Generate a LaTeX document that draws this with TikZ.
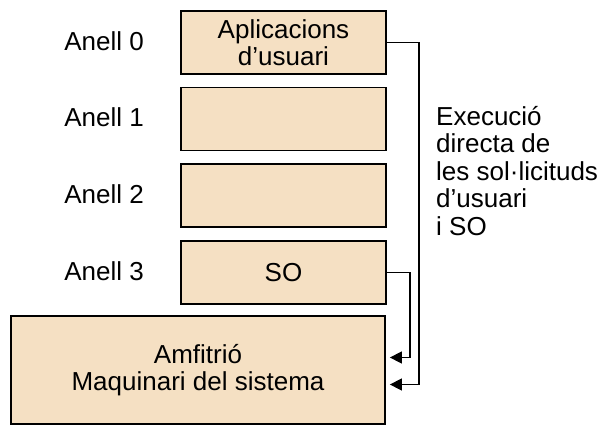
\documentclass[tikz,border=0pt]{standalone}
\usepackage{fontspec}
\setmainfont{Liberation Sans}
\usetikzlibrary{arrows.meta}
\definecolor{sand}{HTML}{F5E0C3}

\begin{document}
\begin{tikzpicture}[x=1pt,y=-1pt,font=\fontsize{26}{27.5}\selectfont,
  ring/.style={draw,line width=1.8pt,fill=sand,minimum width=205pt,minimum height=63pt,inner sep=0pt,align=center},
  lab/.style={inner sep=0pt,anchor=base},
  conn/.style={line width=1.5pt,-{Triangle[length=12pt,width=12pt]},shorten >=4pt}]
\useasboundingbox (0,0) rectangle (598,426);

% anells
\node[ring] (r0) at (283.5,42.5) {Aplicacions\\d’usuari};
\node[ring] (r1) at (283.5,119) {};
\node[ring] (r2) at (283.5,195.5) {};
\node[ring] (r3) at (283.5,272.5) {SO};
\node[ring,minimum width=374pt,minimum height=108pt] (host) at (198,370) {Amfitrió\\Maquinari del sistema};

\node[lab] (a0) at (104,50) {Anell 0};
\node[lab] (a1) at (104,126.5) {Anell 1};
\node[lab] (a2) at (104,203) {Anell 2};
\node[lab] (a3) at (104,280) {Anell 3};

\node[inner sep=0pt,anchor=north west,align=left] (exec) at (436,106)
  {Execució\\directa de\\les sol·licituds\\d’usuari\\i SO};

% fletxes
\coordinate (b0) at (419,384.5);
\coordinate (b3) at (410,357.5);
\draw[conn] (r0.east) -| (b0) -- (b0 -| host.east);
\draw[conn] (r3.east) -| (b3) -- (b3 -| host.east);
\end{tikzpicture}
\end{document}
